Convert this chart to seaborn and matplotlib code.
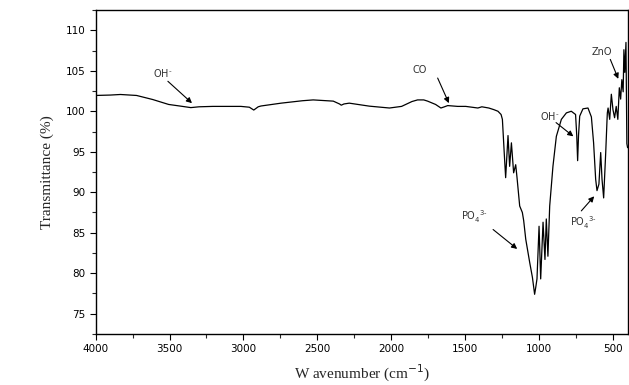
import numpy as np
import pandas as pd
import matplotlib
matplotlib.use("Agg")
import matplotlib.pyplot as plt
import seaborn as sns
from matplotlib.ticker import MultipleLocator

# FTIR spectrum
wavenumber = [4000, 3900, 3832, 3723, 3614, 3506, 3424, 3356, 3300, 3207, 3100, 3017,
              2960, 2930, 2900, 2881, 2745, 2600, 2528, 2392, 2350, 2338, 2320, 2284,
              2148, 2012, 1930, 1860, 1822, 1780, 1754, 1700, 1664, 1640, 1618, 1550,
              1496, 1414, 1387, 1340, 1306, 1278, 1257, 1248, 1236, 1226, 1210, 1199,
              1187, 1172, 1158, 1149, 1131, 1113, 1104, 1090, 1063, 1045, 1030, 1022,
              1014, 1000, 989, 973, 960, 951, 940, 928, 906, 883, 849, 815, 782, 753,
              745, 739, 733, 725, 703, 669, 646, 631, 617, 608, 595, 583, 574, 563,
              549, 540, 538, 533, 522, 511, 500, 489, 478, 467, 457, 448, 440, 431,
              426, 420, 412, 406, 401]
transmittance = [101.95, 102.0, 102.07, 101.95, 101.45, 100.84, 100.63, 100.45, 100.55, 100.6, 100.6, 100.6,
                 100.5, 100.15, 100.55, 100.65, 101.0, 101.3, 101.4, 101.25, 100.9, 100.75, 100.9, 101.0,
                 100.63, 100.4, 100.6, 101.2, 101.4, 101.4, 101.25, 100.84, 100.4, 100.55, 100.7, 100.6,
                 100.6, 100.4, 100.55, 100.4, 100.2, 100.0, 99.6, 99.0, 95.0, 91.8, 97.0, 93.2,
                 96.1, 92.4, 93.4, 91.8, 88.3, 87.5, 86.5, 84.2, 81.3, 79.5, 77.4, 78.3,
                 79.3, 85.8, 79.3, 86.3, 81.7, 86.7, 82.1, 88.3, 93.2, 96.9, 99.0, 99.8, 100.0, 99.6,
                 97.0, 93.9, 97.0, 99.4, 100.3, 100.4, 99.3, 96.1, 91.6, 90.2, 91.0, 94.9, 91.6, 89.3,
                 94.9, 99.0, 99.8, 100.4, 99.0, 102.1, 100.2, 99.2, 100.6, 99.0, 102.9, 101.5, 103.9, 102.4,
                 107.6, 104.8, 108.5, 96.0, 95.5]

# annotations: label, text position, arrow tail, arrow head
ann_labels = [r"OH$^{\bar{\ }}$", "CO", r"OH$^{\bar{\ }}$", r"PO$_4^{\ \ 3\text{-}}$", r"PO$_4^{\ \ 3\text{-}}$", "ZnO"]
ann_text = [(3546, 104.7), (1808, 105.1), (926, 99.4), (1440, 87.0), (700, 86.3), (572, 107.3)]
ann_tail = [(3511, 103.7), (1686, 104.1), (885, 98.6), (1311, 85.4), (714, 87.7), (518, 106.4)]
ann_head = [(3348, 101.0), (1610, 101.0), (768, 96.9), (1148, 83.0), (627, 89.5), (464, 104.0)]

df = pd.DataFrame({"Wavenumber": wavenumber, "Transmittance": transmittance})

sns.set_style("ticks")
plt.rcParams["font.family"] = ["DejaVu Sans"]

fig = plt.figure(figsize=(6.29, 3.85), dpi=100)
ax = fig.add_axes([0.152, 0.1325, 0.846, 0.8415])
sns.lineplot(data=df, x="Wavenumber", y="Transmittance", sort=False,
             color="black", linewidth=0.9, ax=ax)

ax.set_xlim(4000, 400)
ax.set_ylim(72.5, 112.5)
ax.xaxis.set_major_locator(MultipleLocator(500))
ax.xaxis.set_minor_locator(MultipleLocator(250))
ax.yaxis.set_major_locator(MultipleLocator(5))
ax.yaxis.set_minor_locator(MultipleLocator(2.5))
ax.tick_params(which="major", direction="out", length=4, width=0.8, labelsize=7.5, colors="black")
ax.tick_params(which="minor", direction="out", length=3, width=0.8)
for s in ax.spines.values():
    s.set_visible(True)
    s.set_color("black")
    s.set_linewidth(1.0)

ax.set_xlabel(r"W avenumber (cm$^{-1}$)", family="Liberation Serif", fontsize=11, labelpad=6)
ax.set_ylabel("Transmittance (%)", family="Liberation Serif", fontsize=11, labelpad=8)

for lab, t, a, h in zip(ann_labels, ann_text, ann_tail, ann_head):
    ax.text(t[0], t[1], lab, fontsize=7, ha="center", va="center", color="#333333")
    ax.annotate("", xy=h, xytext=a,
                arrowprops=dict(arrowstyle="-|>", color="black", lw=0.8,
                                mutation_scale=8, shrinkA=0, shrinkB=0))

fig.savefig("out.png", dpi=100)
